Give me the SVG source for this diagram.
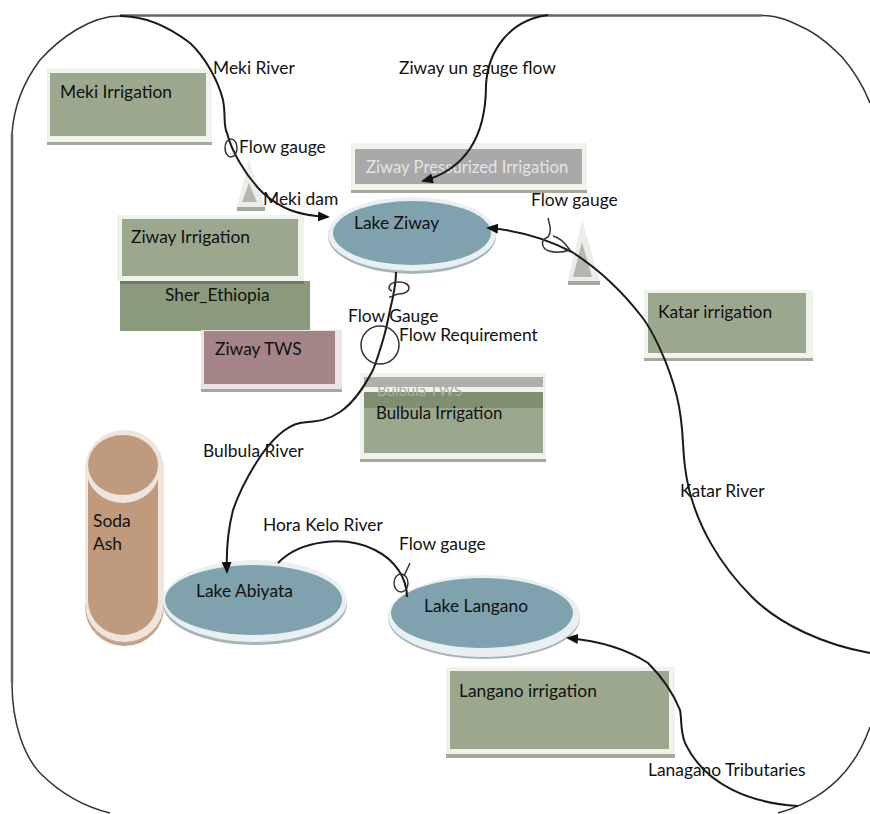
<svg xmlns="http://www.w3.org/2000/svg" width="870" height="814" viewBox="0 0 870 814">
<style>
text{font-family:"Lato","Liberation Sans",sans-serif;font-size:17.4px;fill:#111}
.out{fill:#f0f2ec}
.sh{fill:#a5a89c}
.gr{fill:#9ca88e}
.dk{fill:#8a9a7c}
.lk{fill:#7fa2ae}
.lo{fill:#eaf0f1}
.ls{fill:#a4b6ba}
.tr{fill:#ecece8}
.tri{fill:#b4b6b2}
.c{fill:none;stroke:#1a1a1a;stroke-width:2}
.g{fill:none;stroke:#333;stroke-width:1.5}
.b{fill:none;stroke:#333;stroke-width:1.5}
.bs{fill:none;stroke:#666;stroke-width:2.5}
</style>
<defs>
<marker id="a" markerWidth="12" markerHeight="10" refX="10" refY="5" orient="auto" markerUnits="userSpaceOnUse"><path d="M0 0L12 5L0 10Z" fill="#111"/></marker>
</defs>
<rect width="870" height="814" fill="#fff"/>
<path id="boundary" class="b" d="M110 813C85 807 60 793 40 773C25 757 12 725 12 683V133C14 105 25 80 40 60C60 38 90 16 120 16M762 15.500C780 16 790 21 802 27C818 34 830 45 842 57C855 72 864 88 870 103M870 727C855 770 825 800 778 813"/>
<path id="boundary-straight" class="bs" d="M12 683V133M120 15.500H762"/>

<g id="meki-irrigation"><rect class="sh" x="47" y="72" width="165" height="73"/><rect class="out" x="47" y="68" width="165" height="74"/><rect class="gr" x="50" y="73" width="156" height="63"/><text x="60" y="98">Meki Irrigation</text></g>
<g id="ziway-pressurized"><rect class="sh" x="351" y="147" width="236" height="46"/><rect class="out" x="351" y="143" width="236" height="47"/><rect x="355" y="149" width="227" height="35" fill="#a9a9a9"/><text x="366" y="173" style="fill:#e4e4e4;font-size:16.7px">Ziway Pressurized Irrigation</text></g>
<g id="meki-dam"><path class="tr" d="M249 160L237 207H265Z"/><rect class="sh" x="237" y="207" width="28" height="4"/><path class="tri" d="M249 183L242 202H257Z"/><text x="263" y="205">Meki dam</text></g>
<g id="ziway-irrigation"><rect class="out" x="117" y="215" width="187" height="66"/><rect class="gr" x="122" y="219" width="176" height="57"/><text x="131" y="243">Ziway Irrigation</text></g>
<g id="sher-ethiopia"><rect class="dk" x="120" y="281" width="190" height="50"/><rect x="120" y="281" width="184" height="3" fill="#6f7a62"/><text x="165" y="301">Sher_Ethiopia</text></g>
<g id="ziway-tws"><rect class="sh" x="201" y="386" width="141" height="6"/><rect x="201" y="330" width="141" height="59" fill="#ece4e4"/><rect x="204" y="331" width="131" height="53" fill="#a58487"/><text x="215" y="355">Ziway TWS</text></g>
<g id="lake-ziway"><ellipse class="ls" cx="412" cy="236" rx="84" ry="38"/><ellipse class="lo" cx="412" cy="234" rx="84" ry="37"/><ellipse class="lk" cx="412" cy="233" rx="79" ry="32"/><text x="354" y="229">Lake Ziway</text></g>
<g id="katar-dam"><path class="tr" d="M582 220L568 281H600Z"/><rect class="sh" x="568" y="281" width="32" height="4"/><path class="tri" d="M582 242L573 277H592Z"/></g>
<g id="katar-irrigation"><rect class="sh" x="644" y="294" width="169" height="67"/><rect class="out" x="644" y="290" width="169" height="68"/><rect class="gr" x="648" y="293" width="158" height="60"/><text x="658" y="318">Katar irrigation</text></g>
<g id="bulbula-irrigation"><rect class="sh" x="360" y="377" width="186" height="85"/><rect class="out" x="360" y="373" width="186" height="86"/><rect x="364" y="377" width="179" height="10" fill="#aeb0ac"/><rect class="gr" x="364" y="392" width="179" height="61"/><rect x="364" y="392" width="179" height="16" fill="#808f72"/><text x="377" y="396" style="fill:#a8b09c;font-size:15px">Bulbula TWS</text><text x="376" y="419" style="font-size:16.8px">Bulbula Irrigation</text></g>
<g id="soda-ash"><rect x="85" y="434" width="79" height="212" rx="39" fill="#c8a284"/><rect x="85" y="430" width="79" height="212" rx="39" fill="#eee6de"/><rect x="88" y="434" width="70" height="201" rx="35" fill="#c09a7c"/><ellipse cx="123" cy="468" rx="37" ry="35" fill="#eee6de"/><ellipse cx="123" cy="465" rx="35" ry="30" fill="#c09a7c"/><text x="93" y="527">Soda</text><text x="93" y="550">Ash</text></g>
<g id="lake-abiyata"><ellipse class="ls" cx="255" cy="604" rx="92" ry="41"/><ellipse class="lo" cx="255" cy="601" rx="92" ry="41"/><ellipse class="lk" cx="253.500" cy="600" rx="88.500" ry="35"/><text x="196" y="597">Lake Abiyata</text></g>
<g id="lake-langano"><ellipse class="ls" cx="484" cy="618" rx="96" ry="41"/><ellipse class="lo" cx="484" cy="616" rx="96" ry="41"/><ellipse class="lk" cx="482" cy="613" rx="91" ry="35"/><text x="424" y="612">Lake Langano</text></g>
<g id="langano-irrigation"><rect class="sh" x="446" y="671" width="229" height="87"/><rect class="out" x="446" y="667" width="229" height="87"/><rect class="gr" x="450" y="671" width="219" height="78"/><text x="459" y="697">Langano irrigation</text></g>

<g id="connectors">
<path class="c" marker-end="url(#a)" d="M120 16C150 16 173 30 190 43C205 57 218 80 223 100C226 115 223 125 227 133C230 145 234 153 240 163C247 175 255 185 263 193C272 201 280 206 290 210C300 214 312 216 328 217"/>
<path class="c" marker-end="url(#a)" d="M548 15C510 20 488 50 486 85C486 130 470 168 423 181"/>
<path class="c" marker-end="url(#a)" d="M870 653C825 645 780 625 752 597C725 570 692 525 685 467C682 445 684 425 677 397C668 360 650 327 642 317C625 295 600 270 572 252C545 238 515 230 488 228"/>
<path class="c" marker-end="url(#a)" d="M396 272C396 285 393 298 390 310C388 320 386 330 383 340C380 350 377 360 373 370C365 385 355 402 340 412C325 422 315 421 300 423C285 426 270 442 260 457C248 475 240 490 233 510C228 530 226 550 227 572"/>
<path class="c" d="M278 563C300 540 345 535 375 550C395 560 407 578 407 597"/>
<path class="c" marker-end="url(#a)" d="M798 806C750 803 705 785 685 743C680 730 682 720 680 710C672 690 660 675 648 663C625 648 600 641 568 638"/>
</g>
<g id="gauges">
<ellipse class="g" cx="231" cy="148" rx="6" ry="9"/>
<path class="g" d="M389 297C392 298 394 294 399 294C405 294 409 291 409 288C409 284 404 282 399 282C393 282 389 284 389 288C389 290 392 291 392 291"/>
<circle class="g" cx="380" cy="345" r="19"/>
<path class="g" d="M548 218C550 226 552 232 548 237C540 240 541 248 549 251C556 253 564 252 570 250C565 243 558 237 553 236"/>
<ellipse class="g" cx="401" cy="583" rx="7" ry="9"/>
<path class="g" d="M410 563L404 576"/>
</g>
<g id="labels">
<text x="213" y="74">Meki River</text>
<text x="399" y="74">Ziway un gauge flow</text>
<text x="239" y="153">Flow gauge</text>
<text x="531" y="206">Flow gauge</text>
<text x="348" y="322">Flow Gauge</text>
<text x="399" y="341">Flow Requirement</text>
<text x="203" y="457">Bulbula River</text>
<text x="680" y="497">Katar River</text>
<text x="263" y="531">Hora Kelo River</text>
<text x="399" y="550">Flow gauge</text>
<text x="648" y="776">Lanagano Tributaries</text>
</g>
</svg>
